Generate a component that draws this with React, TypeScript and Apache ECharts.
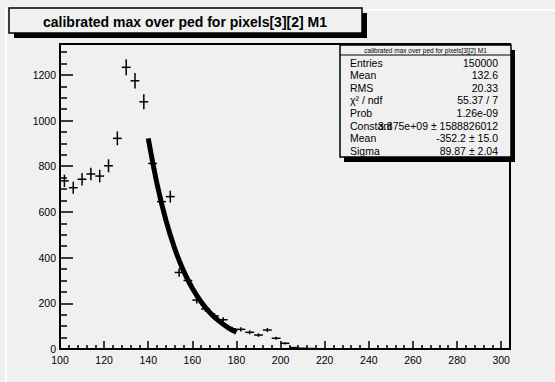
import React, { useEffect, useRef } from "react";
import * as echarts from "echarts";

// Histogram bins (centre of each 4-unit bin) and their contents
const binCenters = [102, 106, 110, 114, 118, 122, 126, 130, 134, 138, 142, 146, 150, 154, 158, 162, 166, 170, 174, 178, 182, 186, 190, 194, 198, 202, 206, 210, 214, 218];
const binCounts = [736, 706, 743, 766, 757, 802, 922, 1233, 1174, 1082, 812, 645, 667, 335, 300, 214, 175, 145, 128, 88, 86, 73, 61, 83, 47, 25, 6, 3, 2, 1];
const binWidth = 4;

// Gaussian fit curve over the fitted range
const fitX = [140, 144, 148, 152, 156, 160, 164, 168, 172, 176, 180];
const fitY = [922, 722, 564, 440, 342, 266, 206, 159, 123, 95, 73];

const titleText = "calibrated max over ped for pixels[3][2] M1";
const statLabels = ["Entries", "Mean", "RMS", "\u03c7\u00b2 / ndf", "Prob", "Constant", "Mean", "Sigma"];
const statValues = ["150000", "132.6", "20.33", "55.37 / 7", "1.26e-09", "3.875e+09 \u00b1 1588826012", "-352.2 \u00b1 15.0", "89.87 \u00b1 2.04"];

const BG = "#f0f0f0";
const FONT = "'Liberation Sans', Arial, Helvetica, sans-serif";

export default function App() {
  const ref = useRef<HTMLDivElement>(null);

  useEffect(() => {
    if (!ref.current) return;
    const chart = echarts.init(ref.current, undefined, { renderer: "svg" });

    const points = binCenters.map((x, i) => [x, binCounts[i], Math.sqrt(binCounts[i])]);
    const fitData = fitX.map((x, i) => [x, fitY[i]]);

    const statsX0 = 340, statsX1 = 511, statsY0 = 45, statsY1 = 157;
    const rowY0 = 62.5, rowStep = 12.66;

    const statsGraphics: any[] = [];
    statLabels.forEach((lab, i) => {
      const y = rowY0 + i * rowStep;
      statsGraphics.push({
        type: "text", left: undefined, x: 350, y,
        style: { text: lab, font: `10.5px ${FONT}`, fill: "#000", textAlign: "left", textVerticalAlign: "middle" },
        z: 102,
      });
      statsGraphics.push({
        type: "text", x: 498, y,
        style: { text: statValues[i], font: `10.5px ${FONT}`, fill: "#000", textAlign: "right", textVerticalAlign: "middle" },
        z: 102,
      });
    });

    chart.setOption({
      animation: false,
      backgroundColor: BG,
      grid: {
        left: 60, right: 45, top: 44, bottom: 33,
        show: true, borderColor: "#000", borderWidth: 2, backgroundColor: "transparent",
      },
      xAxis: {
        type: "value", min: 100, max: 304, interval: 20,
        axisLine: { show: true, onZero: false, lineStyle: { color: "#000", width: 2 } },
        axisTick: { show: true, inside: true, length: 8, lineStyle: { color: "#000", width: 1.5 } },
        minorTick: { show: true, splitNumber: 5, length: 4, lineStyle: { color: "#000", width: 1.5 } },
        splitLine: { show: false },
        axisLabel: {
          color: "#000", fontFamily: FONT, fontSize: 10.5, margin: 5,
          formatter: (v: number) => (v % 20 === 0 ? String(v) : ""),
        },
      },
      yAxis: {
        type: "value", min: 0, max: 1335, interval: 200,
        axisLine: { show: true, lineStyle: { color: "#000", width: 2 } },
        axisTick: { show: true, inside: true, length: 13, lineStyle: { color: "#000", width: 1.5 } },
        minorTick: { show: true, splitNumber: 4, length: 7, lineStyle: { color: "#000", width: 1.5 } },
        splitLine: { show: false },
        axisLabel: {
          color: "#000", fontFamily: FONT, fontSize: 10.5, margin: 4,
          formatter: (v: number) => (v % 200 === 0 ? String(v) : ""),
        },
      },
      series: [
        {
          type: "custom",
          data: points,
          encode: { x: 0, y: 1 },
          z: 3,
          renderItem: (_params: any, api: any) => {
            const x = api.value(0), y = api.value(1), e = api.value(2);
            const l = api.coord([x - binWidth / 2, y]);
            const r = api.coord([x + binWidth / 2, y]);
            const t = api.coord([x, y + e]);
            const b = api.coord([x, y - e]);
            const st = { stroke: "#000", lineWidth: 1.5 };
            return {
              type: "group",
              children: [
                { type: "line", shape: { x1: l[0], y1: l[1], x2: r[0], y2: r[1] }, style: st },
                { type: "line", shape: { x1: t[0], y1: t[1], x2: b[0], y2: b[1] }, style: st },
              ],
            };
          },
        },
        {
          type: "line",
          data: fitData,
          smooth: 0.3,
          symbol: "none",
          z: 4,
          lineStyle: { color: "#000", width: 5 },
        },
      ],
      graphic: [
        // pad bevel highlight
        { type: "line", shape: { x1: 6, y1: 10, x2: 555, y2: 10 }, style: { stroke: "#ffffff", lineWidth: 2 }, z: 1 },
        { type: "line", shape: { x1: 6, y1: 10, x2: 6, y2: 382 }, style: { stroke: "#ffffff", lineWidth: 2 }, z: 1 },
        // title box with shadow
        { type: "rect", shape: { x: 14, y: 13, width: 353, height: 25 }, style: { fill: "#000" }, z: 100 },
        { type: "rect", shape: { x: 9, y: 8, width: 353, height: 25 }, style: { fill: BG, stroke: "#000", lineWidth: 1.5 }, z: 101 },
        {
          type: "text", x: 185, y: 21.5,
          style: { text: titleText, font: `bold 14px ${FONT}`, fill: "#000", textAlign: "center", textVerticalAlign: "middle" },
          z: 102,
        },
        // statistics box with shadow
        { type: "rect", shape: { x: statsX0 + 4, y: statsY0 + 5, width: statsX1 - statsX0, height: statsY1 - statsY0 }, style: { fill: "#000" }, z: 100 },
        { type: "rect", shape: { x: statsX0, y: statsY0, width: statsX1 - statsX0, height: statsY1 - statsY0 }, style: { fill: BG, stroke: "#000", lineWidth: 1.5 }, z: 101 },
        { type: "line", shape: { x1: statsX0, y1: 55, x2: statsX1, y2: 55 }, style: { stroke: "#000", lineWidth: 1 }, z: 102 },
        {
          type: "text", x: (statsX0 + statsX1) / 2, y: 50.2,
          style: { text: titleText, font: `6.5px ${FONT}`, fill: "#000", textAlign: "center", textVerticalAlign: "middle" },
          z: 102,
        },
        ...statsGraphics,
      ],
    });

    return () => chart.dispose();
  }, []);

  return (
    <div
      ref={ref}
      style={{ position: "fixed", left: 0, top: 0, width: 555, height: 382 }}
    />
  );
}
